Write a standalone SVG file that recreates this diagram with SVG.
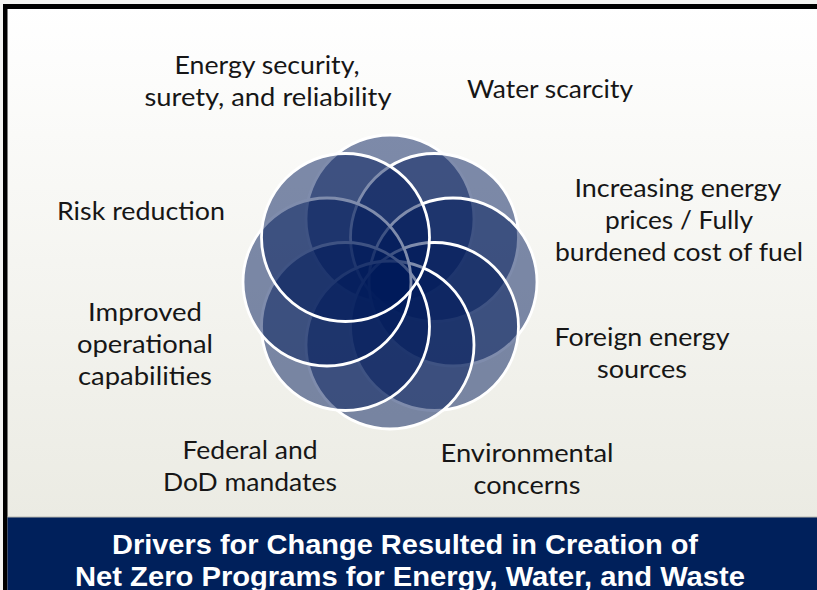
<svg xmlns="http://www.w3.org/2000/svg" width="817" height="590" viewBox="0 0 817 590">
  <defs>
    <linearGradient id="bg" x1="0" y1="0" x2="0" y2="1">
      <stop offset="0" stop-color="#ffffff"/>
      <stop offset="1" stop-color="#ebebe3"/>
    </linearGradient>
    <style>
      .petal { fill: #001a5a; fill-opacity: 0.5; stroke: #ffffff; stroke-width: 2.8; }
      .lbl { font-family: Lato, "Liberation Sans", sans-serif; font-size: 25px; fill: #161616; text-anchor: middle; }
      .banner { font-family: "Liberation Sans", Arial, sans-serif; font-weight: bold; font-size: 28px; fill: #ffffff; text-anchor: middle; }
    </style>
  </defs>

  <rect x="0" y="0" width="817" height="590" fill="#f4f4f2"/>
  <rect x="5" y="6" width="812" height="512" fill="url(#bg)"/>
  <!-- frame -->
  <rect x="3" y="4" width="814" height="5" fill="#000000"/>
  <rect x="3" y="4" width="4.5" height="586" fill="#000000"/>

  <!-- banner -->
  <g id="banner">
    <rect x="7.5" y="517" width="809.5" height="73" fill="#00205b"/>
    <line x1="7.5" y1="517" x2="817" y2="517" stroke="#b8b8b0" stroke-width="1"/>
    <text class="banner" x="405" y="554" textLength="586" lengthAdjust="spacingAndGlyphs">Drivers for Change Resulted in Creation of</text>
    <text class="banner" x="410" y="586" textLength="670" lengthAdjust="spacingAndGlyphs">Net Zero Programs for Energy, Water, and Waste</text>
  </g>

  <!-- radial venn of eight circles -->
  <g id="venn">
    <circle class="petal" cx="390" cy="219" r="84"/>
    <circle class="petal" cx="434.5" cy="237.5" r="84"/>
    <circle class="petal" cx="453" cy="282" r="84"/>
    <circle class="petal" cx="434.5" cy="326.5" r="84"/>
    <circle class="petal" cx="390" cy="345" r="84"/>
    <circle class="petal" cx="345.5" cy="326.5" r="84"/>
    <circle class="petal" cx="327" cy="282" r="84"/>
    <circle class="petal" cx="345.5" cy="237.5" r="84"/>
  </g>

  <g id="energy-security">
    <text class="lbl" x="267" y="74" textLength="185" lengthAdjust="spacingAndGlyphs">Energy security,</text>
    <text class="lbl" x="268" y="106" textLength="247" lengthAdjust="spacingAndGlyphs">surety, and reliability</text>
  </g>
  <g id="water-scarcity">
    <text class="lbl" x="550" y="98" textLength="166" lengthAdjust="spacingAndGlyphs">Water scarcity</text>
  </g>
  <g id="energy-prices">
    <text class="lbl" x="678" y="197" textLength="207" lengthAdjust="spacingAndGlyphs">Increasing energy</text>
    <text class="lbl" x="679" y="229" textLength="148" lengthAdjust="spacingAndGlyphs">prices / Fully</text>
    <text class="lbl" x="679" y="261" textLength="248" lengthAdjust="spacingAndGlyphs">burdened cost of fuel</text>
  </g>
  <g id="foreign-energy">
    <text class="lbl" x="642" y="346" textLength="175" lengthAdjust="spacingAndGlyphs">Foreign energy</text>
    <text class="lbl" x="642" y="378" textLength="90" lengthAdjust="spacingAndGlyphs">sources</text>
  </g>
  <g id="environmental">
    <text class="lbl" x="527" y="462" textLength="173" lengthAdjust="spacingAndGlyphs">Environmental</text>
    <text class="lbl" x="527" y="494" textLength="107" lengthAdjust="spacingAndGlyphs">concerns</text>
  </g>
  <g id="mandates">
    <text class="lbl" x="250" y="459" textLength="135" lengthAdjust="spacingAndGlyphs">Federal and</text>
    <text class="lbl" x="250" y="491" textLength="174" lengthAdjust="spacingAndGlyphs">DoD mandates</text>
  </g>
  <g id="operational">
    <text class="lbl" x="145" y="321" textLength="114" lengthAdjust="spacingAndGlyphs">Improved</text>
    <text class="lbl" x="145" y="353" textLength="136" lengthAdjust="spacingAndGlyphs">operational</text>
    <text class="lbl" x="145" y="385" textLength="134" lengthAdjust="spacingAndGlyphs">capabilities</text>
  </g>
  <g id="risk-reduction">
    <text class="lbl" x="141" y="220" textLength="168" lengthAdjust="spacingAndGlyphs">Risk reduction</text>
  </g>
</svg>
